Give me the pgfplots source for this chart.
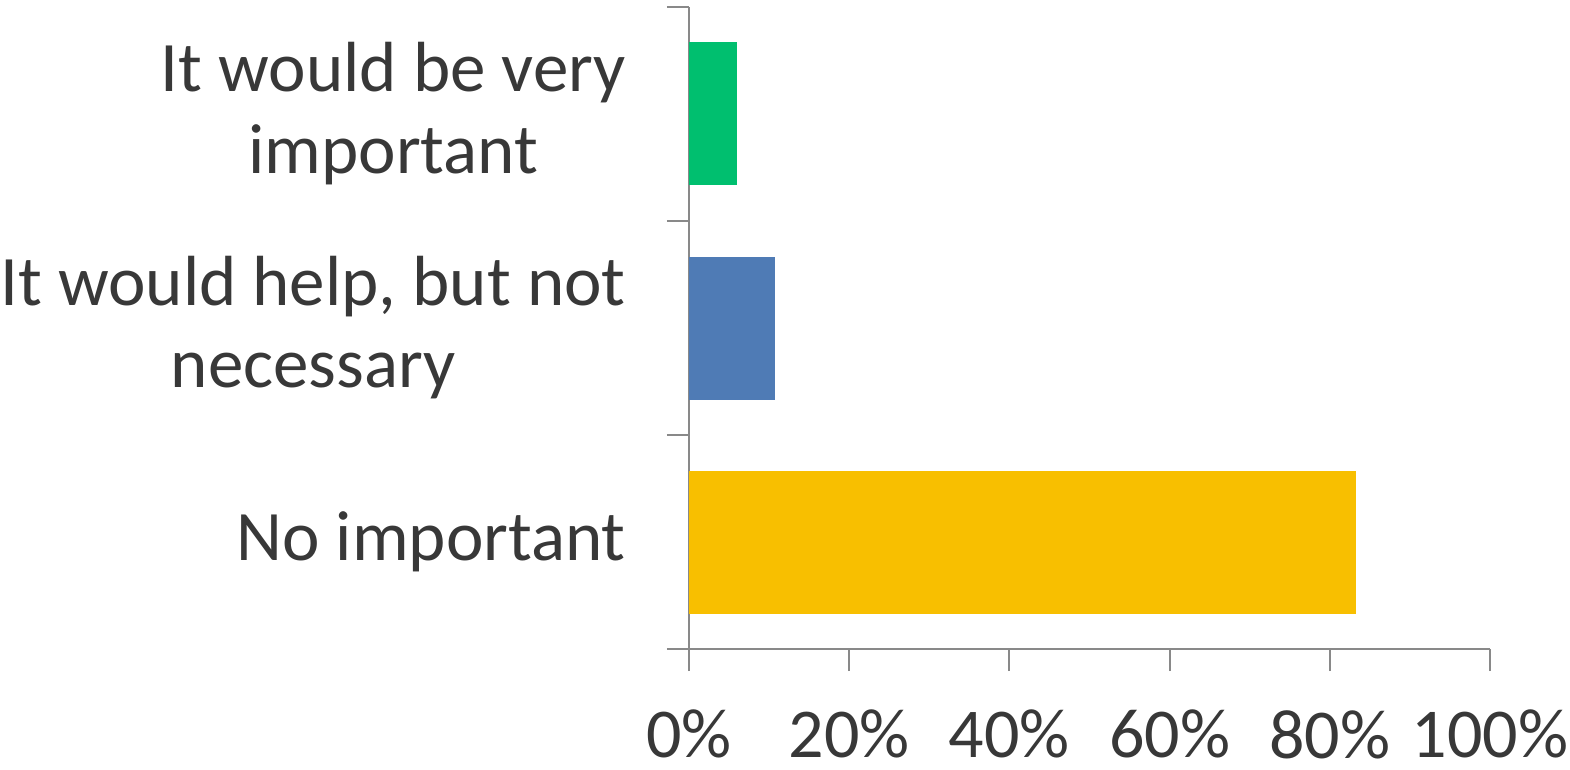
\documentclass[border=0pt]{standalone}
\usepackage{fontspec}
\setmainfont{Carlito}
\usepackage{pgfplots}
\pgfplotsset{compat=1.18}
\definecolor{cgreen}{RGB}{0,191,111}
\definecolor{cblue}{RGB}{79,123,181}
\definecolor{cyellow}{RGB}{248,191,0}
\definecolor{axisgray}{RGB}{137,137,137}
\definecolor{txt}{RGB}{56,56,56}
\begin{document}
\begin{tikzpicture}
\begin{axis}[
  at={(0pt,0pt)}, anchor=south west,
  scale only axis,
  width=801pt, height=642pt,
  xmin=0, xmax=100, ymin=-0.5, ymax=2.5,
  clip=false,
  xbar, bar width=143pt, bar shift=0pt,
  axis x line*=bottom, axis y line*=left,
  axis line style={-, draw=axisgray, line width=2pt},
  xtick={0,20,40,60,80,100},
  xticklabel={\pgfmathprintnumber{\tick}\%},
  ytick={0,1,2},
  yticklabels={No important, {It would help, but not\\necessary}, {It would be very\\important}},
  minor ytick={-0.5,0.5,1.5,2.5},
  tick align=outside,
  major tick length=22pt,
  minor tick length=22pt,
  x tick style={draw=axisgray, line width=2pt},
  y tick style={draw=axisgray, line width=2pt},
  every major y tick/.style={draw=none},
  /pgf/number format/assume math mode=true,
  xticklabel style={font={\fontsize{70pt}{82pt}\selectfont}, text=txt, anchor=north, inner sep=0pt},
  xticklabel shift=39pt,
  yticklabel style={font={\fontsize{71pt}{82pt}\selectfont}, text=txt, anchor=east, align=center, inner sep=0pt},
  yticklabel shift=41pt,
]
\addplot[fill=cyellow, draw=none] coordinates {(83.3,0)};
\addplot[fill=cblue, draw=none] coordinates {(10.7,1)};
\addplot[fill=cgreen, draw=none] coordinates {(6,2)};
\end{axis}
\pgfresetboundingbox
\path[use as bounding box] (-689pt,-120pt) rectangle (881pt,649pt);
\end{tikzpicture}
\end{document}
